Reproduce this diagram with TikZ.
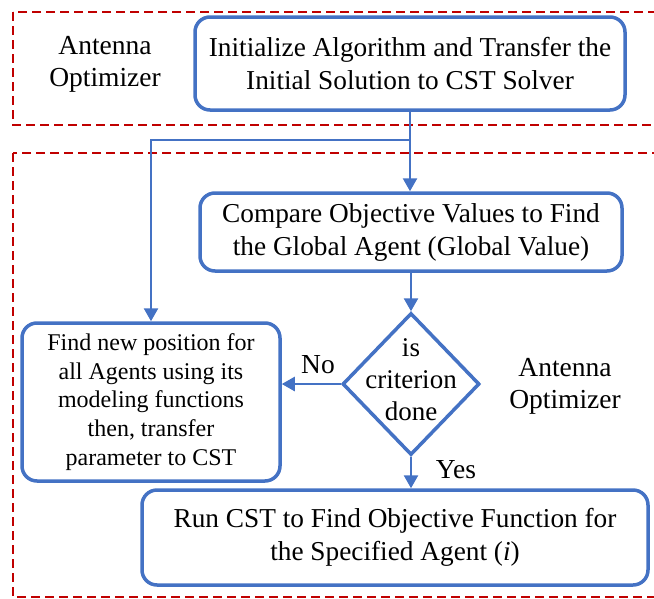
\documentclass[tikz,border=0pt]{standalone}
\usepackage{fontspec}
\setmainfont{Liberation Serif}
\usetikzlibrary{shapes.geometric,arrows.meta}
\definecolor{blueC}{HTML}{4472C4}
\definecolor{redC}{HTML}{C00000}
\begin{document}
\begin{tikzpicture}[x=1pt,y=-1pt,
  box/.style={draw=blueC, line width=3.5pt, rounded corners=15pt, align=center, inner sep=0pt},
  bigfont/.style={font=\fontsize{27.3}{33}\selectfont},
  midfont/.style={font=\fontsize{24}{28.7}\selectfont},
  conn/.style={draw=blueC, line width=2.5pt, -{Triangle[length=13pt,width=14pt]}},
  region/.style={draw=redC, line width=2.5pt, dash pattern=on 9pt off 5pt},
  lbl/.style={font=\fontsize{27.5}{32}\selectfont, align=center, inner sep=0pt}
]
\useasboundingbox (0,0) rectangle (654,598);
\clip (0,0) rectangle (654,598);
\draw[region] (13,12) rectangle (670,125);
\draw[region] (13,153) rectangle (670,597);

\node[lbl] (ao1) at (105,64) {Antenna\\Optimizer};
\node[lbl] (ao2) at (565,386) {Antenna\\Optimizer};

\node[box, bigfont, minimum width=430pt, minimum height=93pt] (init) at (410,63.5)
  {Initialize Algorithm and Transfer the\\Initial Solution to CST Solver};
\node[box, bigfont, minimum width=422pt, minimum height=78pt] (cmp) at (411,232)
  {Compare Objective Values to Find\\the Global Agent (Global Value)};
\node[draw=blueC, line width=3.5pt, diamond, minimum width=137pt, minimum height=142pt, inner sep=0pt] (dia) at (411,384) {};
\node[lbl, font=\fontsize{27}{32}\selectfont] (diatext) at ([yshift=4pt]dia.center) {is\\criterion\\done};
\node[box, midfont, minimum width=258pt, minimum height=158pt] (find) at (151,402)
  {Find new position for\\all Agents using its\\modeling functions\\then, transfer\\parameter to CST};
\node[box, bigfont, minimum width=506pt, minimum height=95pt] (run) at (395,537.5)
  {Run CST to Find Objective Function for\\the Specified Agent (\textit{i})};

\coordinate (split) at (410,140);
\draw[conn] (init.south) -- (init.south |- cmp.north);
\draw[conn] (init.south) -- (split) -| (find.north);
\draw[conn] (cmp.south) -- (dia.north);
\draw[conn] (dia.west) -- (find.east |- dia.west);
\draw[conn] (dia.south) -- (dia.south |- run.north);

\node[lbl] (no) at (318,365) {No};
\node[lbl] (yes) at (456,470) {Yes};
\end{tikzpicture}
\end{document}
